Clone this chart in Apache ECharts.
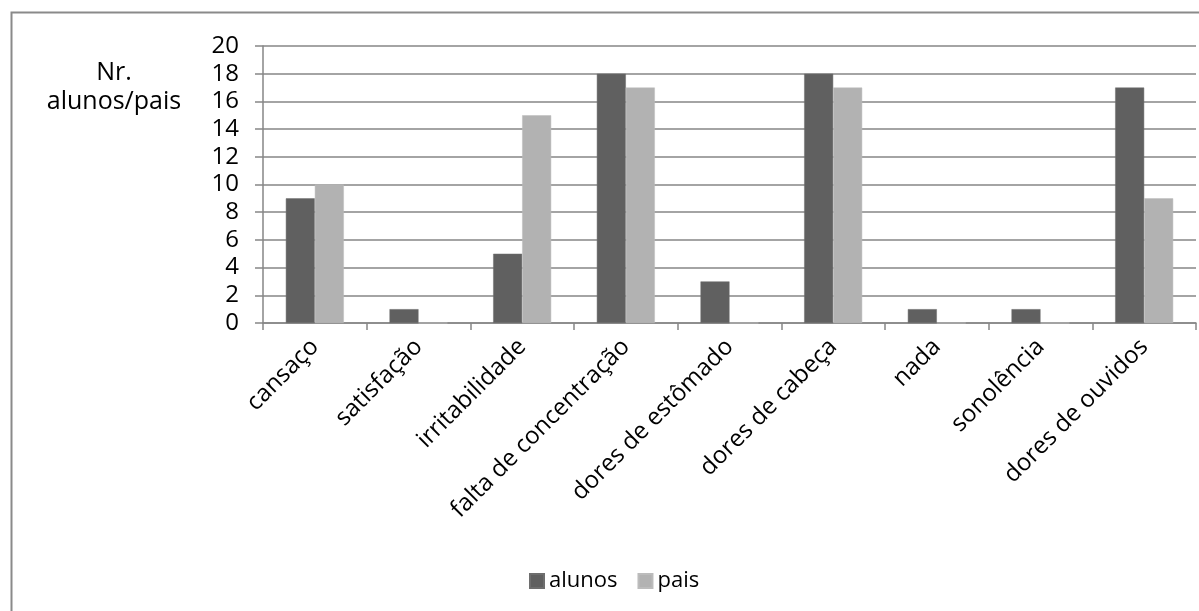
<!DOCTYPE html>
<html>
<head>
<meta charset="utf-8">
<script src="https://cdn.jsdelivr.net/npm/echarts@6/dist/echarts.min.js"></script>
<style>
  html, body { margin: 0; padding: 0; background: #fff; }
  #chart { width: 1199px; height: 611px; }
</style>
</head>
<body>
<div id="chart"></div>
<script>
// Symptoms reported by pupils and parents
const categories = [
  'cansaço', 'satisfação', 'irritabilidade', 'falta de concentração',
  'dores de estômado', 'dores de cabeça', 'nada', 'sonolência', 'dores de ouvidos'
];
const alunos = [9, 1, 5, 18, 3, 18, 1, 1, 17];
const pais = [10, 0, 15, 17, 0, 17, 0, 0, 9];
const yTicks = { min: 0, max: 20, step: 2 };
const axisTitle = ['Nr.', 'alunos/pais'];

const FONT = 'Open Sans';
const chart = echarts.init(document.getElementById('chart'), null, { renderer: 'canvas' });

chart.setOption({
  backgroundColor: '#fff',
  animation: false,
  textStyle: { fontFamily: FONT },
  graphic: [
    {
      type: 'rect', left: 9, top: 10, z: -1, silent: true,
      shape: { width: 1400, height: 800 },
      style: { fill: 'none', stroke: '#8a8a8a', lineWidth: 2 }
    },
    {
      type: 'text', x: 114, y: 73, silent: true,
      style: { text: axisTitle[0], fontFamily: FONT, fontSize: 25, fill: '#000', align: 'center', verticalAlign: 'middle' }
    },
    {
      type: 'text', x: 114, y: 102, silent: true,
      style: { text: axisTitle[1], fontFamily: FONT, fontSize: 25, fill: '#000', align: 'center', verticalAlign: 'middle' }
    }
  ],
  grid: { left: 263, right: 3, top: 46, bottom: 288, containLabel: false },
  legend: {
    top: 565, left: 524,
    itemWidth: 14, itemHeight: 14, itemGap: 20,
    icon: 'rect',
    textStyle: { fontFamily: FONT, fontSize: 22, color: '#000' },
    data: ['alunos', 'pais']
  },
  xAxis: {
    type: 'category',
    data: categories,
    axisLine: { lineStyle: { color: '#868686', width: 1.5 } },
    axisTick: { show: true, alignWithLabel: false, length: 7, lineStyle: { color: '#868686', width: 1.5 } },
    axisLabel: { interval: 0, rotate: 45, fontSize: 24, color: '#000', margin: 20, fontFamily: FONT },
    splitLine: { show: false }
  },
  yAxis: {
    type: 'value',
    min: yTicks.min, max: yTicks.max, interval: yTicks.step,
    axisLine: { show: true, lineStyle: { color: '#868686', width: 1.5 } },
    axisTick: { show: true, length: 8, lineStyle: { color: '#868686', width: 1.5 } },
    axisLabel: { fontSize: 24, color: '#000', margin: 24, fontFamily: FONT },
    splitLine: { show: true, lineStyle: { color: '#868686', width: 1.5 } }
  },
  series: [
    {
      name: 'alunos', type: 'bar', data: alunos,
      barWidth: 29, barGap: '0%',
      itemStyle: { color: '#606060', borderColor: '#6e6e6e', borderWidth: 0.5 }
    },
    {
      name: 'pais', type: 'bar', data: pais,
      barWidth: 29, barGap: '0%',
      itemStyle: { color: '#b2b2b2', borderColor: '#bcbcbc', borderWidth: 0.5 }
    }
  ]
});
</script>
</body>
</html>
